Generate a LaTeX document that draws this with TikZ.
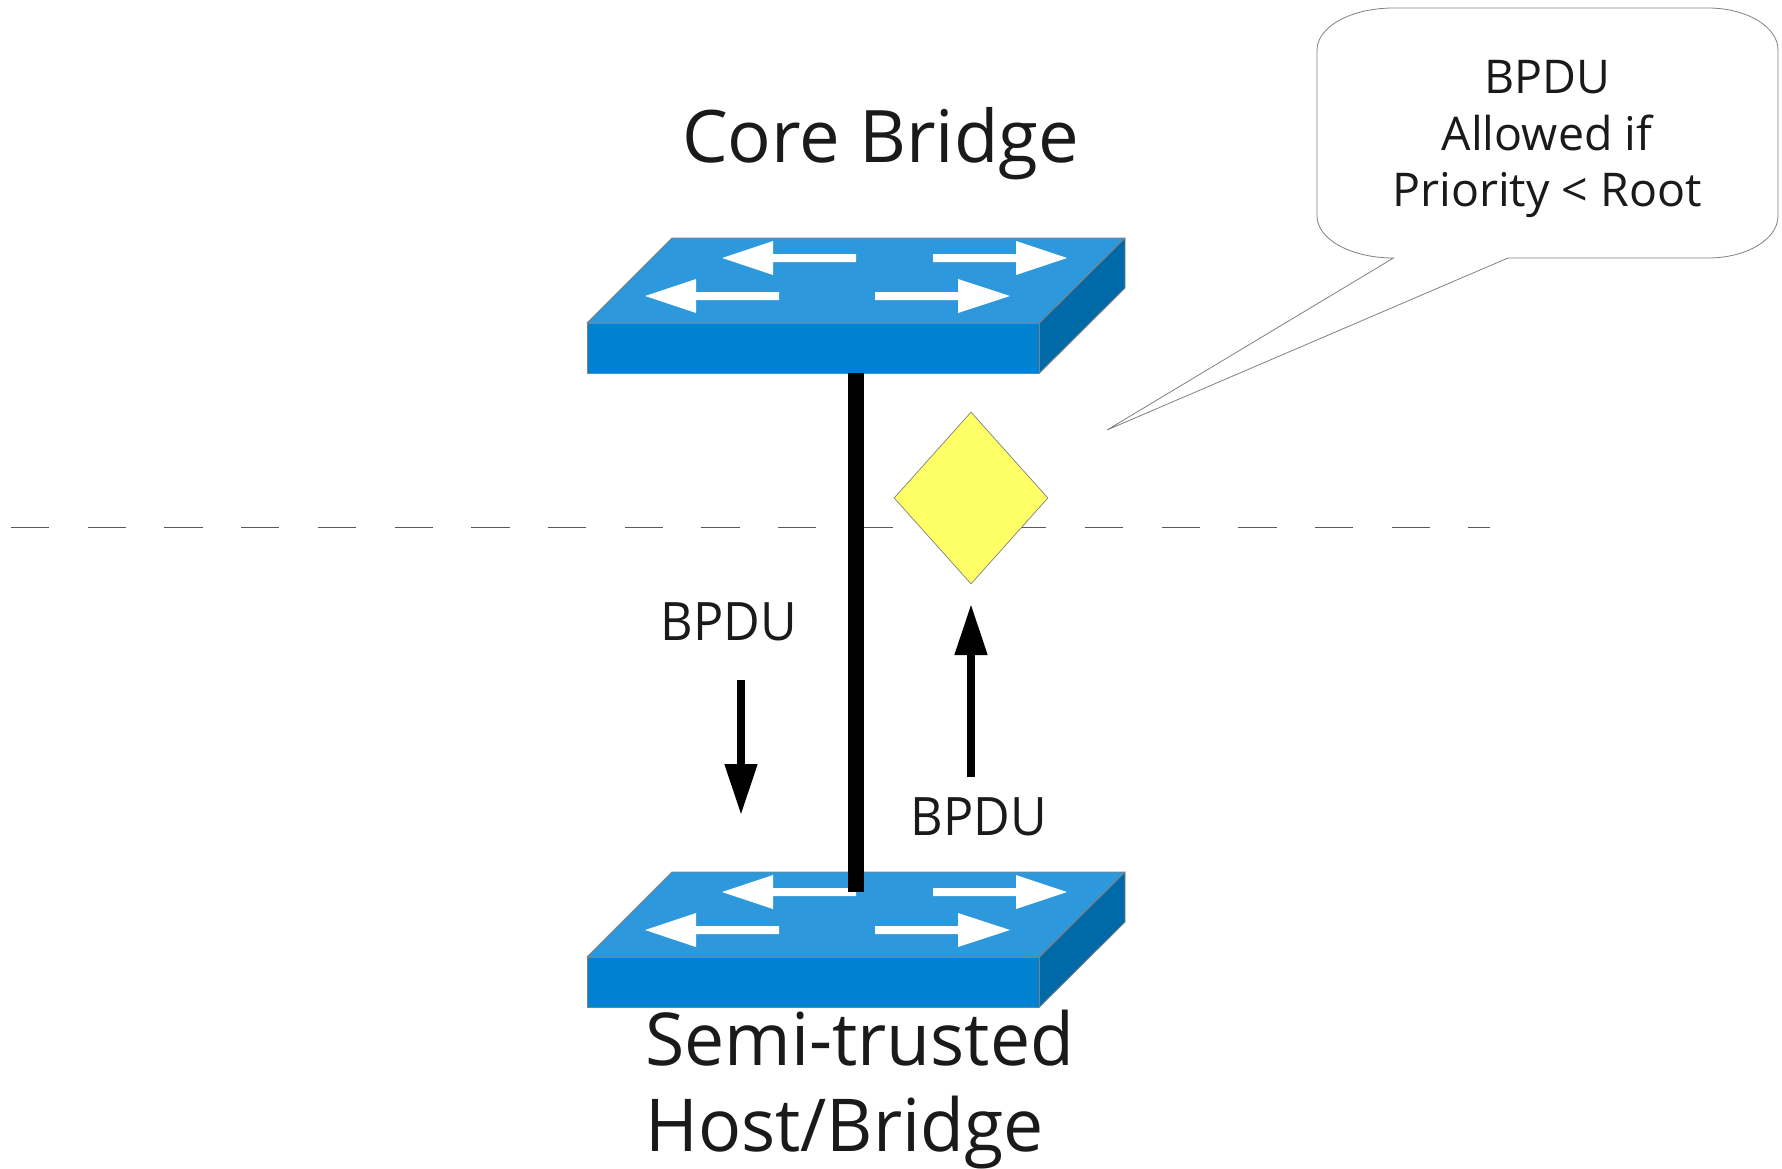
\documentclass[tikz,border=0pt]{standalone}
\usepackage{fontspec}
\setmainfont{Open Sans}
\newfontfamily\bigface[FakeStretch=0.98]{Open Sans}
\newfontfamily\smallface[FakeStretch=0.95]{Open Sans}
\usetikzlibrary{arrows.meta,shapes.geometric}
\definecolor{swtop}{HTML}{2D99DC}
\definecolor{swfront}{HTML}{0082D0}
\definecolor{swside}{HTML}{006AA8}
\definecolor{edgegray}{HTML}{808080}
\definecolor{dashgray}{HTML}{5A5A5A}
\definecolor{guardyellow}{HTML}{FFFF66}
\definecolor{ink}{HTML}{1A1A1A}
\tikzset{
  swface/.style={draw=edgegray,line width=0.9pt,line join=round},
  whitearrow/.style={draw=none,fill=white},
  bigtext/.style={text=ink,font=\bigface\fontsize{73}{86}\selectfont,inner sep=0pt},
  coretext/.style={text=ink,font=\fontsize{72.5}{86}\selectfont,inner sep=0pt},
  smalltext/.style={text=ink,font=\smallface\fontsize{53}{56.6}\selectfont,inner sep=0pt},
  bubbletxt/.style={text=ink,font=\fontsize{46.5}{56.6}\selectfont,inner sep=0pt},
  flow/.style={line width=8pt,-{Triangle[length=51pt,width=31pt]}},
  guard/.style={diamond,draw=edgegray,fill=guardyellow,line width=0.7pt,inner sep=0pt,aspect=0.9,minimum width=154pt,minimum height=172pt},
  bubble/.style={draw=edgegray,fill=white,line width=0.8pt},
  boundary/.style={draw=dashgray,line width=0.9pt,dash pattern=on 38.35pt off 38.35pt}
}
\newcommand{\switchicon}[2]{%
  \begin{scope}[yshift=#1]
    \draw[swface,fill=swtop] (587,323) -- (672,238) -- (1125,238) -- (1039.5,323) -- cycle;
    \draw[swface,fill=swfront] (587,323) rectangle (1039.5,373);
    \draw[swface,fill=swside] (1039.5,323) -- (1125,238) -- (1125,288) -- (1039.5,373) -- cycle;
    \fill[whitearrow] (722,258) -- (773,241) -- (773,254) -- (856,254) -- (856,262) -- (773,262) -- (773,275) -- cycle;
    \fill[whitearrow] (645,296) -- (696,279) -- (696,292) -- (779,292) -- (779,300) -- (696,300) -- (696,313) -- cycle;
    \fill[whitearrow] (1067,258) -- (1016,241) -- (1016,254) -- (933,254) -- (933,262) -- (1016,262) -- (1016,275) -- cycle;
    \fill[whitearrow] (1010,296) -- (958,279) -- (958,292) -- (875,292) -- (875,300) -- (958,300) -- (958,313) -- cycle;
    \coordinate (#2bottom) at (856,373);
    \coordinate (#2port) at (856,258);
  \end{scope}}
\begin{document}
\begin{tikzpicture}[x=1pt,y=-1pt]
  \useasboundingbox (0,0) rectangle (1782,1169);
  \coordinate (dashL) at (11,527);
  \coordinate (dashR) at (1490,527);
  \draw[boundary] (dashL) -- (dashR);

  \switchicon{0pt}{core}
  \switchicon{-634pt}{semi}

  \draw[line width=16pt] (corebottom) -- (semiport);

  \node[guard] (guardnode) at (971,498) {};

  \node[smalltext] (bpduL) at (729,622) {BPDU};
  \node[smalltext] (bpduR) at (979,817) {BPDU};
  \coordinate (downstart) at (741,680);
  \coordinate (downend) at (741,815);
  \coordinate (upstart) at (971,777);
  \coordinate (upend) at (971,604);
  \draw[flow] (downstart) -- (downend);
  \draw[flow] (upstart) -- (upend);

  \node[coretext,anchor=base] (corelabel) at (880.5,163) {Core Bridge};
  \node[bigtext,anchor=north west,align=left] (semilabel) at (645,1009.5) {Semi-trusted\\Host/Bridge};

  \coordinate (tail) at (1107,430);
  \draw[bubble,line join=miter] (tail) -- (1393.5,258)
    .. controls (1351,258) and (1317,239.2) .. (1317,216)
    -- (1317,50)
    .. controls (1317,26.8) and (1351,8) .. (1393.5,8)
    -- (1708,8)
    .. controls (1746.7,8) and (1778,26.8) .. (1778,50)
    -- (1778,216)
    .. controls (1778,239.2) and (1746.7,258) .. (1708,258)
    -- (1508,258) -- cycle;
  \node[bubbletxt,align=center] (bubbletext) at (1547,139) {BPDU\\Allowed if\\Priority < Root};
\end{tikzpicture}
\end{document}
